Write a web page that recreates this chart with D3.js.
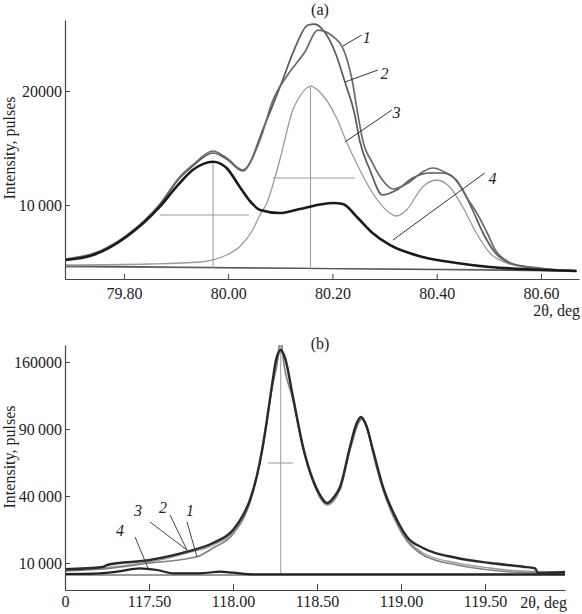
<!DOCTYPE html>
<html><head><meta charset="utf-8">
<script src="https://cdn.jsdelivr.net/npm/d3@7"></script>
<style>
html,body{margin:0;padding:0;background:#fff;}
svg{display:block;font-family:"Liberation Serif","Times New Roman",serif;}
</style></head>
<body><svg id="c" width="582" height="614"></svg>
<script>
// ---------- Panel (a) data: [2theta, intensity] ----------
const aCurve1 = [[79.687,5264],[79.754,5966],[79.806,7369],[79.869,10088],[79.907,12456],[79.932,13508],[79.971,14736],[79.997,14122],[80.028,13070],[80.061,15701],[80.086,19209],[80.114,21401],[80.147,23418],[80.172,25348],[80.205,24646],[80.220,23769],[80.237,21138],[80.249,17893],[80.258,15701],[80.277,13683],[80.296,12193],[80.316,11403],[80.348,12017],[80.373,12894],[80.392,13245],[80.419,12806],[80.438,12193],[80.457,10702],[80.477,9298],[80.496,7632],[80.515,5878],[80.553,4738],[80.597,4475],[80.668,4212]];
const aCurve2 = [[79.687,5220],[79.754,5878],[79.806,7281],[79.869,10000],[79.907,12368],[79.932,13420],[79.971,14560],[79.997,14034],[80.028,12982],[80.070,17016],[80.103,20787],[80.128,23769],[80.153,25786],[80.166,25874],[80.185,25172],[80.205,23418],[80.224,20787],[80.243,17893],[80.252,15701],[80.272,13070],[80.296,10877],[80.323,11315],[80.354,12368],[80.387,12806],[80.411,12806],[80.431,12456],[80.450,11315],[80.469,9562],[80.488,7632],[80.511,5878],[80.540,4913],[80.578,4563],[80.668,4212]];
const aCurve3 = [[79.687,4738],[79.850,4826],[79.946,5001],[79.971,5177],[79.997,5615],[80.022,6343],[80.047,7808],[80.061,9123],[80.074,10149],[80.099,13947],[80.124,18332],[80.137,19498],[80.158,20436],[80.181,19647],[80.208,17630],[80.227,15551],[80.246,13683],[80.277,11052],[80.310,9298],[80.323,9035],[80.342,9562],[80.373,11579],[80.399,12193],[80.425,11579],[80.450,9825],[80.476,7544],[80.502,5790],[80.534,4913],[80.565,4563],[80.668,4212]];
const aCurve4 = [[79.687,5176],[79.741,5615],[79.805,7220],[79.869,9851],[79.901,11605],[79.932,13070],[79.971,13797],[79.997,13245],[80.022,11605],[80.045,10175],[80.061,9562],[80.099,9298],[80.137,9649],[80.201,10175],[80.220,10088],[80.247,8948],[80.277,7544],[80.310,6492],[80.373,5440],[80.438,4913],[80.502,4563],[80.565,4387],[80.668,4212]];
const aBaseline = [[79.687,4650],[80.668,4212]];
const aBaseline2 = [[79.687,4560],[80.668,4300]];
const aCross = [ // [x0,y0,x1,y1]
  [79.971,13797,79.971,4475],[79.869,9123,80.040,9123],
  [80.158,20436,80.158,4400],[80.086,12368,80.243,12368]];
const aLabels = ["1","2","3","4"];
const aLabelPos = [[80.266,24734],[80.300,21576],[80.323,18156],[80.507,12368]];
const aLeaders = [[80.220,23944,80.256,24909],[80.224,20787,80.287,21840],[80.224,15525,80.314,18332],[80.316,6930,80.492,12806]];
const aXTicks = [79.80,80.00,80.20,80.40,80.60];
const aYTicks = [10000,20000];
const aYTickLabels = ["10\u2009000","20000"];

// ---------- Panel (b) data ----------
const bCurve1 = [[117.000,7755],[117.226,8289],[117.506,10000],[117.786,11968],[117.881,14979],[118.000,20529],[118.101,36497],[118.173,70581],[118.232,130458],[118.270,168461],[118.283,195000],[118.296,168461],[118.357,117841],[118.417,72981],[118.476,48793],[118.560,35367],[118.637,44289],[118.696,72173],[118.750,96373],[118.768,99164],[118.800,90896],[118.833,69791],[118.893,43660],[118.976,25027],[119.036,17646],[119.131,12531],[119.333,9409],[119.530,8019],[119.726,7365],[119.976,7237]];
const bCurve2 = [[117.000,8208],[117.226,8842],[117.250,9409],[117.506,10915],[117.726,13659],[117.881,16861],[118.000,22276],[118.060,29460],[118.101,37648],[118.143,53518],[118.173,72173],[118.202,98238],[118.232,133713],[118.256,162393],[118.283,174641],[118.310,164804],[118.357,120937],[118.417,74600],[118.476,50121],[118.518,40598],[118.560,35929],[118.601,39402],[118.637,45552],[118.696,74600],[118.732,93617],[118.762,101060],[118.792,93617],[118.833,72173],[118.893,45552],[118.976,26955],[119.036,19267],[119.131,14979],[119.333,11548],[119.530,10000],[119.726,8927],[119.798,8481],[119.815,7237],[119.976,7494]];
const bCurve3 = [[117.000,7887],[117.250,8701],[117.506,10300],[117.726,13208],[117.881,16095],[118.000,21396],[118.101,36497],[118.173,70581],[118.232,130458],[118.283,172159],[118.310,162393],[118.357,119897],[118.417,73788],[118.476,49457],[118.560,34808],[118.637,43660],[118.696,72173],[118.762,99164],[118.792,92702],[118.833,70581],[118.893,44289],[118.976,25982],[119.036,18447],[119.131,13208],[119.333,10000],[119.530,8563],[119.726,7755],[119.976,7494]];
const bCurve4 = [[117.000,6985],[117.208,7162],[117.310,7572],[117.446,8481],[117.548,8019],[117.643,7162],[117.804,7162],[117.923,7572],[118.000,7314],[118.119,6911],[119.976,6911]];
const bBaseline = [[117.000,6739],[119.976,6739]];
const bCross = [[118.284,181000,118.284,6739],[118.208,62125,118.357,62125]];
const bLabels = ["4","3","2","1"];
const bLabelPos = [[117.327,22276],[117.435,32077],[117.583,33702],[117.744,32077]];
const bLeaders = [[117.417,19266,117.494,8563],[117.506,25982,117.726,14256],[117.625,29460,117.726,14256],[117.726,25982,117.786,11872]];
const bXTicks = [117.0,117.5,118.0,118.5,119.0,119.5];
const bXTickLabels = ["0","117.50","118.00","118.50","119.00","119.50"];
const bYTicks = [10000,40000,90000,160000];
const bYTickLabels = ["10\u2009000","40\u2009000","90\u2009000","160000"];

const svg = d3.select("#c");
const axisColor = "#444";
const fs = 16;

// ---------- Panel (a) ----------
const xa = d3.scaleLinear().domain([79.687,80.673]).range([65,579]);
const ya = d3.scaleLinear().domain([3509,26228]).range([279,20]);
const ga = svg.append("g");
ga.append("clipPath").attr("id","clipA").append("rect").attr("x",65).attr("y",20).attr("width",515).attr("height",259);
const lineA = d3.line().x(d=>xa(d[0])).y(d=>ya(d[1])).curve(d3.curveMonotoneX);
const plotA = ga.append("g").attr("clip-path","url(#clipA)");
plotA.append("path").datum(aBaseline2).attr("d",lineA).attr("fill","none").attr("stroke","#888").attr("stroke-width",1.2);
plotA.append("path").datum(aBaseline).attr("d",lineA).attr("fill","none").attr("stroke","#555").attr("stroke-width",1.4);
aCross.forEach(c=>plotA.append("line").attr("x1",xa(c[0])).attr("y1",ya(c[1])).attr("x2",xa(c[2])).attr("y2",ya(c[3])).attr("stroke","#9a9a9a").attr("stroke-width",1));
plotA.append("path").datum(aCurve3).attr("d",lineA).attr("fill","none").attr("stroke","#9a9a9a").attr("stroke-width",1.3);
plotA.append("path").datum(aCurve2).attr("d",lineA).attr("fill","none").attr("stroke","#5a5a5a").attr("stroke-width",1.7);
plotA.append("path").datum(aCurve1).attr("d",lineA).attr("fill","none").attr("stroke","#6a6a6a").attr("stroke-width",1.7);
plotA.append("path").datum(aCurve4).attr("d",lineA).attr("fill","none").attr("stroke","#1a1a1a").attr("stroke-width",2.6);
aLeaders.forEach(l=>ga.append("line").attr("x1",xa(l[0])).attr("y1",ya(l[1])).attr("x2",xa(l[2])).attr("y2",ya(l[3])).attr("stroke","#333").attr("stroke-width",1));
aLabels.forEach((t,i)=>ga.append("text").attr("x",xa(aLabelPos[i][0])).attr("y",ya(aLabelPos[i][1])).attr("dy","0.35em").attr("text-anchor","middle").attr("font-style","italic").attr("font-size",fs).attr("fill","#222").text(t));

const axAx = d3.axisBottom(xa).tickValues(aXTicks).tickFormat(d3.format(".2f")).tickSizeInner(-5).tickSizeOuter(0).tickPadding(9);
const axA = ga.append("g").attr("transform","translate(0,279)").call(axAx);
const ayAx = d3.axisLeft(ya).tickValues(aYTicks).tickFormat((d,i)=>aYTickLabels[i]).tickSizeInner(-5).tickSizeOuter(0).tickPadding(3);
const ayA = ga.append("g").attr("transform","translate(65,0)").call(ayAx);
[axA,ayA].forEach(g=>{g.select(".domain").attr("stroke",axisColor).attr("stroke-width",1.2);g.selectAll(".tick line").attr("stroke",axisColor);g.selectAll("text").attr("font-size",fs).attr("fill","#222").attr("font-family","Liberation Serif");});
ga.append("text").attr("x",320).attr("y",15).attr("text-anchor","middle").attr("font-size",fs).attr("fill","#222").text("(a)");
ga.append("text").attr("x",580).attr("y",316).attr("text-anchor","end").attr("font-size",fs).attr("fill","#222").text("2θ, deg");
ga.append("text").attr("transform","translate(15,148) rotate(-90)").attr("text-anchor","middle").attr("font-size",fs).attr("fill","#222").text("Intensity, pulses");

// ---------- Panel (b) ----------
const xb = d3.scaleLinear().domain([117.0,119.976]).range([65,565]);
const yb = d3.scaleSqrt().domain([3564,181000]).range([590,345]);
const gb = svg.append("g");
gb.append("clipPath").attr("id","clipB").append("rect").attr("x",65).attr("y",345).attr("width",501).attr("height",245);
const lineB = d3.line().x(d=>xb(d[0])).y(d=>yb(d[1])).curve(d3.curveMonotoneX);
const plotB = gb.append("g").attr("clip-path","url(#clipB)");
plotB.append("path").datum(bBaseline).attr("d",lineB).attr("fill","none").attr("stroke","#777").attr("stroke-width",1.4);
bCross.forEach(c=>plotB.append("line").attr("x1",xb(c[0])).attr("y1",yb(c[1])).attr("x2",xb(c[2])).attr("y2",yb(c[3])).attr("stroke","#9a9a9a").attr("stroke-width",1));
plotB.append("path").datum(bCurve3).attr("d",lineB).attr("fill","none").attr("stroke","#9a9a9a").attr("stroke-width",1.4);
plotB.append("path").datum(bCurve1).attr("d",lineB).attr("fill","none").attr("stroke","#808080").attr("stroke-width",1.6);
plotB.append("path").datum(bCurve4).attr("d",lineB).attr("fill","none").attr("stroke","#222").attr("stroke-width",2.2);
plotB.append("path").datum(bCurve2).attr("d",lineB).attr("fill","none").attr("stroke","#2a2a2a").attr("stroke-width",2.4);
bLeaders.forEach(l=>gb.append("line").attr("x1",xb(l[0])).attr("y1",yb(l[1])).attr("x2",xb(l[2])).attr("y2",yb(l[3])).attr("stroke","#444").attr("stroke-width",1));
bLabels.forEach((t,i)=>gb.append("text").attr("x",xb(bLabelPos[i][0])).attr("y",yb(bLabelPos[i][1])).attr("dy","0.35em").attr("text-anchor","middle").attr("font-style","italic").attr("font-size",fs).attr("fill","#222").text(t));

const bxAx = d3.axisBottom(xb).tickValues(bXTicks).tickFormat((d,i)=>bXTickLabels[i]).tickSizeInner(-6).tickSizeOuter(0).tickPadding(6);
const axB = gb.append("g").attr("transform","translate(0,590)").call(bxAx);
const byAx = d3.axisLeft(yb).tickValues(bYTicks).tickFormat((d,i)=>bYTickLabels[i]).tickSizeInner(-5).tickSizeOuter(0).tickPadding(3);
const ayB = gb.append("g").attr("transform","translate(65,0)").call(byAx);
[axB,ayB].forEach(g=>{g.select(".domain").attr("stroke",axisColor).attr("stroke-width",1.2);g.selectAll(".tick line").attr("stroke",axisColor);g.selectAll("text").attr("font-size",fs).attr("fill","#222").attr("font-family","Liberation Serif");});
gb.append("text").attr("x",320).attr("y",349).attr("text-anchor","middle").attr("font-size",fs).attr("fill","#222").text("(b)");
gb.append("text").attr("x",567).attr("y",608).attr("text-anchor","end").attr("font-size",fs).attr("fill","#222").text("2θ, deg");
gb.append("text").attr("transform","translate(15,457) rotate(-90)").attr("text-anchor","middle").attr("font-size",fs).attr("fill","#222").text("Intensity, pulses");
</script></body></html>
